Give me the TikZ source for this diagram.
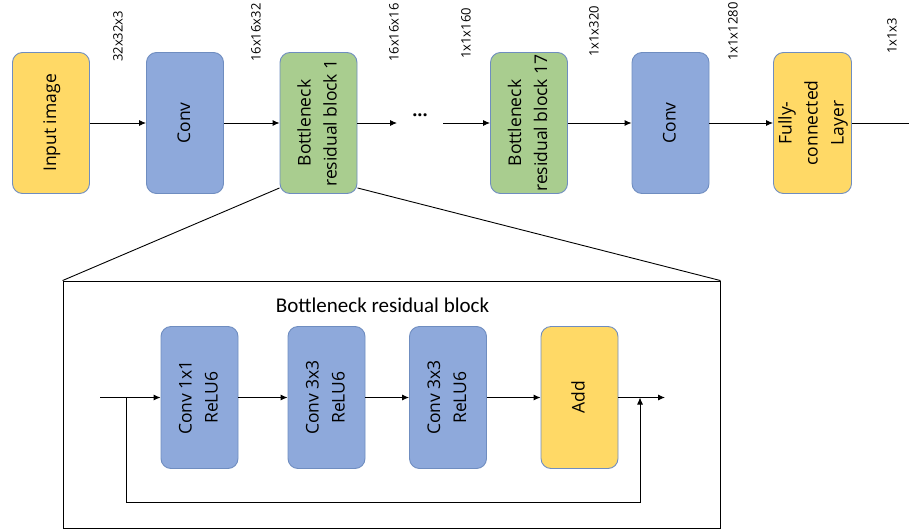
\documentclass[tikz,border=0pt]{standalone}
\usepackage{fontspec}
\setmainfont{Open Sans}
\newfontfamily\titlefont{Carlito}
\usepackage{graphicx}
\usetikzlibrary{arrows.meta}

\definecolor{boxyellow}{HTML}{FFD966}
\definecolor{boxblue}{HTML}{8EA9DB}
\definecolor{boxgreen}{HTML}{A9CD8F}
\definecolor{boxline}{HTML}{6F8DC0}

% text set upright in a box, read from bottom to top
\newcommand{\vtext}[1]{\rotatebox{90}{\begin{tabular}{@{}c@{}}#1\end{tabular}}}

\tikzset{
  layer/.style={draw=boxline, line width=0.9pt, rounded corners=10pt,
    minimum width=77pt, minimum height=141pt, inner sep=0pt,
    font=\fontsize{17.5}{26}\selectfont},
  flow/.style={line width=0.9pt, -{Latex[length=7pt,width=6pt]}},
  plain/.style={line width=0.9pt},
  dim/.style={rotate=90, anchor=west, inner sep=0pt,
    font=\fontsize{13}{15}\selectfont}
}

\begin{document}
\begin{tikzpicture}[x=1pt, y=-1pt]
\useasboundingbox (0,0) rectangle (909,530);

% main network
\node [layer, fill=boxyellow] (inp) at (51,123) {\vtext{Input image}};
\node [layer, fill=boxblue] (conva) at (185,123) {\vtext{Conv}};
\node [layer, fill=boxgreen] (bfirst) at (318.5,123) {\vtext{Bottleneck\\residual block 1}};
\node [layer, fill=boxgreen] (blast) at (529,123) {\vtext{Bottleneck\\residual block 17}};
\node [layer, fill=boxblue] (convb) at (670.5,123) {\vtext{Conv}};
\node [layer, fill=boxyellow] (fc) at (812.5,123) {\vtext{Fully-\\connected\\Layer}};

\coordinate (dotl) at (397,123);
\coordinate (dotr) at (443,123);
\coordinate (out) at (909,123);
\node [inner sep=0pt, font=\fontsize{18}{20}\selectfont\bfseries] (dots) at (420,115) {...};

\draw [flow] (inp) -- (conva);
\draw [flow] (conva) -- (bfirst);
\draw [flow] (bfirst) -- (dotl);
\draw [flow] (dotr) -- (blast);
\draw [flow] (blast) -- (convb);
\draw [flow] (convb) -- (fc);
\draw [plain] (fc) -- (out);

% tensor sizes
\node [dim] (sa) at (118,62) {32x32x3};
\node [dim] (sb) at (256,62) {16x16x32};
\node [dim] (sc) at (394,62) {16x16x16};
\node [dim] (sd) at (466,59) {1x1x160};
\node [dim] (se) at (594,57) {1x1x320};
\node [dim] (sf) at (733,61) {1x1x1280};
\node [dim] (sg) at (892,54) {1x1x3};

% detail of one block
\node [draw, plain, minimum width=657pt, minimum height=247pt, inner sep=0pt] (detail) at (391.5,404.5) {};
\draw [plain] ([yshift=6pt]bfirst.south west) -- (detail.north west);
\draw [plain] ([yshift=6pt]bfirst.south east) -- (detail.north east);
\node [font=\titlefont\fontsize{21}{24}\selectfont] (title) at (382.5,305) {Bottleneck residual block};

\node [layer, fill=boxblue, minimum height=142pt] (expand) at (199.5,397.5) {\vtext{Conv 1x1\\ReLU6}};
\node [layer, fill=boxblue, minimum height=142pt] (depth) at (326.5,397.5) {\vtext{Conv 3x3\\ReLU6}};
\node [layer, fill=boxblue, minimum height=142pt] (project) at (448,397.5) {\vtext{Conv 3x3\\ReLU6}};
\node [layer, fill=boxyellow, minimum height=142pt] (add) at (579.5,397.5) {\vtext{Add}};

\coordinate (bin) at (100,397.5);
\coordinate (split) at (126,397.5);
\coordinate (join) at (640,397.5);
\coordinate (bout) at (665,397.5);

\draw [flow] (bin) -- (expand);
\draw [flow] (expand) -- (depth);
\draw [flow] (depth) -- (project);
\draw [flow] (project) -- (add);
\draw [flow] (add) -- (bout);
\draw [flow] (split) -- ++(0,104.5) -| (join);
\end{tikzpicture}
\end{document}
